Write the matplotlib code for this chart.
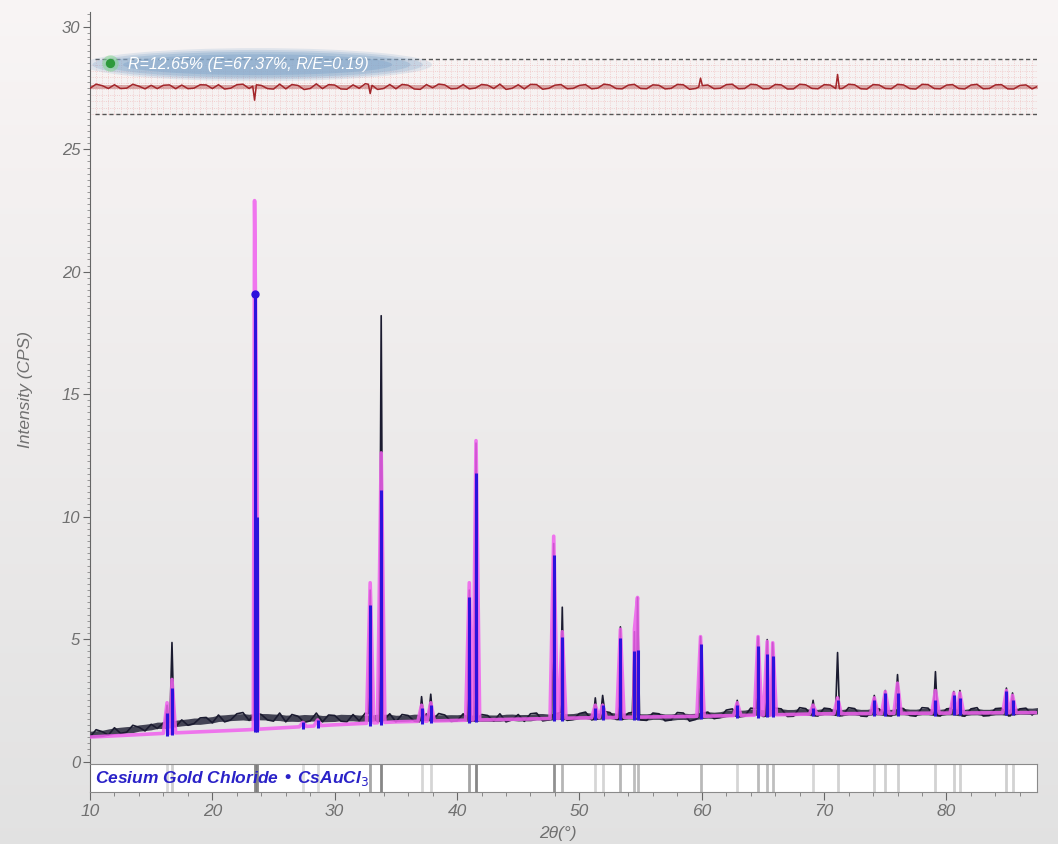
import matplotlib.pyplot as plt
import numpy as np
from matplotlib.patches import Ellipse
from matplotlib.ticker import MultipleLocator

# observed background, one value every 0.5 deg from 10 to 87.5
obs_bg_start = 10.0
obs_bg_step = 0.5
obs_bg = [1.00, 1.30, 1.22, 1.08, 1.38, 1.15, 1.20, 1.48, 1.40, 1.25, 1.52,
          1.35, 1.58, 1.62, 1.42, 1.70, 1.48, 1.55, 1.78, 1.80, 1.58,
          1.90, 1.62, 1.70, 1.95, 2.00, 1.68, 1.98, 1.92, 1.70, 1.65,
          1.98, 1.62, 1.92, 1.85, 1.60, 1.66, 1.98, 1.62, 1.90, 1.88,
          1.65, 1.62, 1.92, 1.66, 1.98, 1.90, 1.62, 1.68, 1.95, 1.62,
          1.92, 1.88, 1.65, 1.62, 1.95, 1.70, 1.96, 1.90, 1.64, 1.66,
          1.95, 1.62, 1.68, 1.92, 1.88, 1.65, 1.95, 1.62, 1.70, 1.92,
          1.64, 1.95, 1.98, 1.66, 1.70, 1.95, 2.00, 1.68, 1.72, 1.96,
          2.02, 1.70, 1.75, 2.05, 2.00, 1.72, 1.70, 1.98, 2.02, 1.70,
          1.68, 1.98, 1.95, 1.66, 1.70, 2.00, 1.98, 1.65, 1.72, 1.96,
          2.02, 1.75, 1.80, 2.10, 2.15, 1.82, 1.85, 2.18, 2.15, 1.84,
          1.86, 2.18, 2.15, 1.84, 1.85, 2.20, 2.16, 1.88, 1.86, 2.18,
          2.15, 1.85, 1.88, 2.20, 2.16, 1.86, 1.84, 2.18, 2.15, 1.88,
          1.86, 2.20, 2.16, 1.88, 1.85, 2.20, 2.18, 1.88, 1.86, 2.15,
          2.18, 1.88, 1.85, 2.15, 2.20, 1.86, 1.88, 2.16, 2.18, 1.86,
          1.88, 2.15, 2.18, 1.90, 2.12]

# observed peaks (2theta, top intensity)
obs_peak_pos = [16.3, 16.7, 23.55, 32.9, 33.8, 37.1, 37.85, 41.0, 41.55, 47.9, 48.6,
                51.3, 51.9, 53.35, 54.5, 54.75, 59.9, 62.9, 64.6, 65.35, 65.8, 69.1,
                71.1, 74.1, 75.0, 76.0, 79.1, 80.6, 81.1, 84.9, 85.4]
obs_peak_top = [2.3, 4.86, 17.0, 7.0, 18.2, 2.65, 2.75, 7.0, 13.0, 8.9, 6.3,
                2.6, 2.7, 5.5, 5.3, 6.7, 5.1, 2.5, 5.1, 4.98, 4.85, 2.5,
                4.45, 2.7, 2.9, 3.55, 3.67, 2.86, 2.9, 3.0, 2.8]

# calculated pattern: background knots and reflections
calc_bg_x = [10, 16, 23, 30, 35, 40, 50, 60, 70, 87.5]
calc_bg_y = [1.0, 1.15, 1.3, 1.5, 1.62, 1.68, 1.78, 1.85, 1.95, 2.0]
calc_pos = [16.3, 16.7, 23.45, 23.65, 27.4, 28.6, 32.9, 33.8, 37.1, 37.85, 41.0, 41.55,
            47.9, 48.6, 51.3, 51.9, 53.35, 54.5, 54.75, 59.9, 62.9, 64.6, 65.35, 65.8,
            69.1, 71.1, 74.1, 75.0, 76.0, 79.1, 80.6, 81.1, 84.9, 85.4]
calc_top = [2.4, 3.35, 22.9, 12.0, 1.6, 1.7, 7.3, 12.6, 2.3, 2.4, 7.3, 13.1,
            9.2, 5.3, 2.3, 2.3, 5.4, 5.4, 6.7, 5.1, 2.4, 5.1, 4.9, 4.85,
            2.3, 2.6, 2.6, 2.85, 3.2, 2.9, 2.8, 2.8, 2.9, 2.7]
stick_top = [2.0, 3.0, 19.1, 10.0, 1.6, 1.7, 6.4, 11.1, 2.2, 2.3, 6.7, 11.8,
             8.45, 5.1, 2.2, 2.3, 5.06, 4.5, 4.57, 4.8, 2.3, 4.7, 4.4, 4.3,
             2.2, 2.5, 2.5, 2.8, 2.8, 2.5, 2.7, 2.6, 2.9, 2.5]
marker_pos, marker_val = 23.45, 19.1

# difference curve
diff_level = 27.55
diff_lo, diff_hi = 26.45, 28.7
diff_spike_x = [23.45, 32.9, 59.9, 71.1]
diff_spike_y = [-0.55, -0.28, 0.35, 0.5]

label_text = "R=12.65% (E=67.37%, R/E=0.19)"
phase_text = "Cesium Gold Chloride \u2022 CsAuCl$_3$"

XMIN, XMAX = 10, 87.4
OBS_COL = '#1b1b30'
CALC_COL = '#f060ee'
STICK_COL = '#2d12dc'
GREY = '#707070'


def with_peaks(bg_x, bg_y, pos, tops, half):
    bg_x = np.asarray(bg_x, float)
    bg_y = np.asarray(bg_y, float)
    keep = np.ones(len(bg_x), bool)
    for p in pos:
        keep &= np.abs(bg_x - p) > half
    xs = list(bg_x[keep])
    ys = list(bg_y[keep])
    for p, t in zip(pos, tops):
        xs += [p - half, p, p + half]
        ys += [np.interp(p - half, bg_x, bg_y), t, np.interp(p + half, bg_x, bg_y)]
    order = np.argsort(xs, kind='stable')
    return np.array(xs)[order], np.array(ys)[order]


obs_x = obs_bg_start + obs_bg_step * np.arange(len(obs_bg))
ox, oy = with_peaks(obs_x, obs_bg, obs_peak_pos, obs_peak_top, 0.17)
cx, cy = with_peaks(calc_bg_x, calc_bg_y, calc_pos, calc_top, 0.3)

smooth = np.convolve(np.pad(obs_bg, 4, mode='edge'), np.ones(9) / 9, mode='valid')
diff_bg = diff_level + 0.6 * (np.array(obs_bg) - smooth)
dx, dy = with_peaks(obs_x, diff_bg, diff_spike_x,
                    [diff_level + v for v in diff_spike_y], 0.15)

plt.rcParams['font.family'] = ['Liberation Sans', 'DejaVu Sans']

fig = plt.figure(figsize=(10.58, 8.44), dpi=100)

# background gradient
bg_ax = fig.add_axes([0, 0, 1, 1], zorder=-10)
top_c = np.array([0.975, 0.960, 0.960])
bot_c = np.array([0.885, 0.885, 0.885])
t = np.linspace(0, 1, 256)[:, None]
grad = top_c[None, :] * (1 - t) + bot_c[None, :] * t
bg_ax.imshow(grad[:, None, :], aspect='auto', extent=[0, 1, 0, 1])
bg_ax.axis('off')

ax = fig.add_axes([90 / 1058, 1 - 764 / 844, 947 / 1058, 752 / 844])
ax.set_facecolor('none')
ax.set_xlim(XMIN, XMAX)
ax.set_ylim(-0.1, 30.6)

# difference panel
for xv in np.arange(10, XMAX, 0.5):
    ax.plot([xv, xv], [diff_lo, diff_hi], color='#f0c4c4', lw=0.6, ls=':', zorder=1)
for yv in np.arange(diff_lo, diff_hi, 0.25):
    ax.plot([XMIN, XMAX], [yv, yv], color='#f0c4c4', lw=0.6, ls=':', zorder=1)
for yv in (diff_lo, diff_hi):
    ax.plot([XMIN + 0.4, XMAX], [yv, yv], color='#555555', lw=1, dashes=(3, 2), zorder=2)
ax.fill_between(obs_x, diff_level - 0.09, diff_level + 0.09, color='#b03a3a',
                alpha=0.4, lw=0, zorder=2)
ax.plot(dx, dy, color='#a3262a', lw=1.1, zorder=3)

# patterns: noisy observed band + line
ax.fill_between(obs_x, smooth - 0.13, smooth + 0.13, color=OBS_COL, alpha=0.8,
                lw=0, zorder=3)
ax.plot(ox, oy, color=OBS_COL, lw=1.2, zorder=3)
ax.plot(cx, cy, color=CALC_COL, lw=2.6, alpha=0.85, zorder=4, solid_joinstyle='round')
stick_base = np.interp(calc_pos, calc_bg_x, calc_bg_y) - 0.1
ax.vlines(calc_pos, stick_base, stick_top, color=STICK_COL, lw=2.2, zorder=5)
ax.plot(marker_pos, marker_val, 'o', color=STICK_COL, ms=5, zorder=6)

# R-factor label
cx0 = 23.7
for w, h, a in [(28.5, 1.35, 0.2), (27.0, 1.2, 0.28), (25.0, 1.05, 0.38), (22.0, 0.85, 0.5)]:
    ax.add_patch(Ellipse((cx0, 28.45), w, h, facecolor='#86a9cc', edgecolor='none',
                         alpha=a, zorder=6))
ax.scatter([11.6], [28.5], s=140, color='#7fd48a', alpha=0.5, zorder=7, linewidths=0)
ax.scatter([11.6], [28.5], s=45, color='#2e9a3c', zorder=8, linewidths=0)
ax.text(13.1, 28.45, label_text, color='white', fontsize=11.5, style='italic',
        va='center', ha='left', zorder=9)

# axes styling
for side in ('top', 'right', 'bottom'):
    ax.spines[side].set_visible(False)
ax.spines['left'].set_color('#666666')
ax.set_xticks([])
ax.yaxis.set_major_locator(MultipleLocator(5))
ax.yaxis.set_minor_locator(MultipleLocator(0.25))
ax.tick_params(axis='y', which='major', length=5, color='#666666', labelsize=12,
               labelcolor=GREY, pad=2)
ax.tick_params(axis='y', which='minor', length=2.5, color='#888888')
for lab in ax.get_yticklabels():
    lab.set_fontstyle('italic')

# phase strip
sx = fig.add_axes([90 / 1058, 1 - 792 / 844, 947 / 1058, 28 / 844])
sx.set_facecolor('white')
sx.set_xlim(XMIN, XMAX)
sx.set_ylim(0, 1)
for p, h in zip(calc_pos, stick_top):
    sx.axvline(p, color='#7a7a7a', lw=2, alpha=min(0.9, 0.12 + h / 12))
sx.text(10.4, 0.5, phase_text, color='#2a22c8', fontsize=12.5, style='italic',
        fontweight='bold', va='center', ha='left')
for s in sx.spines.values():
    s.set_color('#8a8a8a')
    s.set_linestyle((0, (2, 1)))
sx.spines['left'].set_linestyle('-')
sx.spines['left'].set_color('#666666')
sx.set_yticks([])
sx.xaxis.set_major_locator(MultipleLocator(10))
sx.xaxis.set_minor_locator(MultipleLocator(2))
sx.tick_params(axis='x', which='major', length=6, color='#666666', labelsize=12.5,
               labelcolor=GREY, pad=3)
sx.tick_params(axis='x', which='minor', length=3, color='#777777')
for lab in sx.get_xticklabels():
    lab.set_fontstyle('italic')

fig.text(0.527, 0.012, "2\u03b8(\u00b0)", color=GREY, fontsize=12.5, style='italic',
         ha='center', va='center')
fig.text(0.024, 0.538, "Intensity (CPS)", color=GREY, fontsize=12.5, style='italic',
         rotation=90, ha='center', va='center')

fig.savefig('out.png', dpi=100)
